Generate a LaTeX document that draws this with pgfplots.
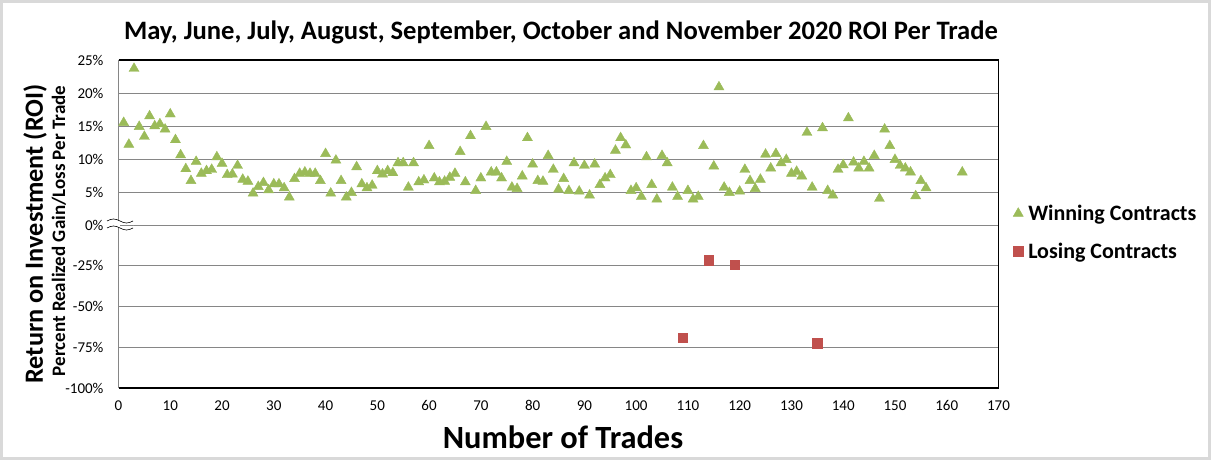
\documentclass[border=0pt]{standalone}
\usepackage{pgfplots}
\pgfplotsset{compat=1.18}
\usepackage{fontspec}
\setmainfont{Carlito}
\definecolor{wingreen}{RGB}{155,187,89}
\definecolor{losered}{RGB}{192,80,77}
\definecolor{gridc}{RGB}{134,134,134}
\definecolor{framec}{RGB}{217,217,217}
\newcommand\legfont{\bfseries\fontsize{22}{24}\selectfont}
\newcommand\tickfont{\fontsize{15}{17}\selectfont}

\pgfplotsset{
  myaxis/.style={
    scale only axis, width=880pt, xmin=0, xmax=170,
    axis line style={draw=none},
    ymajorgrids, grid style={gridc, line width=0.9pt},
    major tick length=0pt,
    tick label style={font=\tickfont},
    /pgf/number format/assume math mode=true,
    yticklabel style={anchor=east, xshift=-11.5pt},
    xticklabel style={yshift=-9pt},
    clip=false,
  }
}

\begin{document}
\begin{tikzpicture}[x=1pt,y=1pt]
\useasboundingbox (0pt,0pt) rectangle (1211pt,460pt);
\draw[framec, line width=3pt] (1.5pt,1.5pt) rectangle (1209.5pt,458.5pt);

% top axis: 0% .. 25%
\begin{axis}[myaxis, at={(118.5pt,235pt)}, anchor=south west, height=165pt,
  ymin=0, ymax=25, ytick={0,5,10,15,20,25},
  yticklabels={0\%,5\%,10\%,15\%,20\%,25\%},
  xtick=\empty,
  legend style={draw=none, fill=none, at={(1.0165,-0.045)}, anchor=west,
    font=\legfont, row sep=17pt, inner sep=0pt,
    /tikz/every odd column/.append style={column sep=3pt}},
  legend cell align=left,
  legend image code/.code={\draw[#1] plot coordinates {(0pt,0pt)};},
]
\addplot[only marks, mark=triangle*, mark size=5.8pt,
  mark options={fill=wingreen, draw=wingreen}] table {
x y
1 15.5
2 12.2
3 23.7
4 14.9
5 13.4
6 16.5
7 15.0
8 15.3
9 14.5
10 16.8
11 12.9
12 10.6
13 8.5
14 6.7
15 9.6
16 7.8
17 8.2
18 8.4
19 10.3
20 9.3
21 7.6
22 7.7
23 9.0
24 6.9
25 6.6
26 4.8
27 5.8
28 6.4
29 5.3
30 6.2
31 6.2
32 5.6
33 4.2
34 7.0
35 7.8
36 8.0
37 7.8
38 7.8
39 6.7
40 10.8
41 4.8
42 9.8
43 6.7
44 4.2
45 4.9
46 8.8
47 6.2
48 5.6
49 6.0
50 8.2
51 7.7
52 8.2
53 7.9
54 9.4
55 9.4
56 5.7
57 9.4
58 6.5
59 6.8
60 12.0
61 7.1
62 6.5
63 6.6
64 7.2
65 7.8
66 11.1
67 6.5
68 13.5
69 5.2
70 7.1
71 14.9
72 8.0
73 8.0
74 7.1
75 9.6
76 5.7
77 5.5
78 7.4
79 13.2
80 9.2
81 6.7
82 6.6
83 10.5
84 8.4
85 5.4
86 7.0
87 5.2
88 9.4
89 5.1
90 9.0
91 4.5
92 9.2
93 6.1
94 7.1
95 7.6
96 11.3
97 13.2
98 12.1
99 5.2
100 5.6
101 4.3
102 10.3
103 6.1
104 3.9
105 10.5
106 9.4
107 5.7
108 4.3
110 5.2
111 3.9
112 4.3
113 12.0
115 8.9
116 20.9
117 5.7
118 4.9
120 5.1
121 8.4
122 6.7
123 5.5
124 6.9
125 10.7
126 8.6
127 10.8
128 9.4
129 9.9
130 7.8
131 8.1
132 7.4
133 14.0
134 5.7
136 14.7
137 5.2
138 4.5
139 8.4
140 9.1
141 16.2
142 9.5
143 8.6
144 9.6
145 8.6
146 10.5
147 4.0
148 14.5
149 12.0
150 9.9
151 9.0
152 8.6
153 8.0
154 4.4
155 6.7
156 5.6
163 8.0
};
\addlegendentry{Winning Contracts}
\addlegendimage{only marks, mark=square*, mark size=4.7pt, mark options={fill=losered, draw=losered}}
\addlegendentry{Losing Contracts}
\draw[black, line width=1.2pt] (rel axis cs:0,1) -- (rel axis cs:1,1) -- (rel axis cs:1,0);
\draw[gridc, line width=0.9pt] (rel axis cs:0,0) -- (rel axis cs:0,1);
\end{axis}

% bottom axis: -100% .. 0%
\begin{axis}[myaxis, at={(118.5pt,72pt)}, anchor=south west, height=163pt,
  ymin=-100, ymax=0, ytick={-100,-75,-50,-25},
  yticklabels={-100\%,-75\%,-50\%,-25\%},
  xtick={0,10,...,170},
]
\addplot[only marks, mark=square*, mark size=4.7pt,
  mark options={fill=losered, draw=losered}] table {
x y
109 -69.3
114 -21.5
119 -24.5
135 -72.4
};
\draw[black, line width=1.2pt] (rel axis cs:0,0) -- (rel axis cs:1,0) -- (rel axis cs:1,1);
\draw[gridc, line width=0.9pt] (rel axis cs:0,0) -- (rel axis cs:0,1);
\end{axis}

% axis break marker at 0%
\fill[white] (107pt,239pt) sin (113.5pt,241pt) cos (120pt,239pt) sin (126.5pt,237pt) cos (133pt,239pt)
  -- (133pt,232pt) sin (126.5pt,230pt) cos (120pt,232pt) sin (113.5pt,234pt) cos (107pt,232pt) -- cycle;
\draw[black, line width=0.6pt] (107pt,239pt) sin (113.5pt,241pt) cos (120pt,239pt) sin (126.5pt,237pt) cos (133pt,239pt);
\draw[black, line width=0.6pt] (107pt,232pt) sin (113.5pt,234pt) cos (120pt,232pt) sin (126.5pt,230pt) cos (133pt,232pt);
\draw[gridc, line width=0.9pt] (120pt,235pt) -- (133pt,235pt);

% titles and labels
\node[font=\bfseries\fontsize{26.6}{29}\selectfont] at (561pt,428pt) {May, June, July, August, September, October and November 2020 ROI Per Trade};
\node[font=\bfseries\fontsize{32.4}{35}\selectfont] at (563pt,23pt) {Number of Trades};
\node[font=\bfseries\fontsize{26.3}{29}\selectfont, rotate=90] at (35pt,226pt) {Return on Investment (ROI)};
\node[font=\bfseries\fontsize{19}{21}\selectfont, rotate=90] at (59pt,229pt) {Percent Realized Gain/Loss Per Trade};
\end{tikzpicture}
\end{document}
